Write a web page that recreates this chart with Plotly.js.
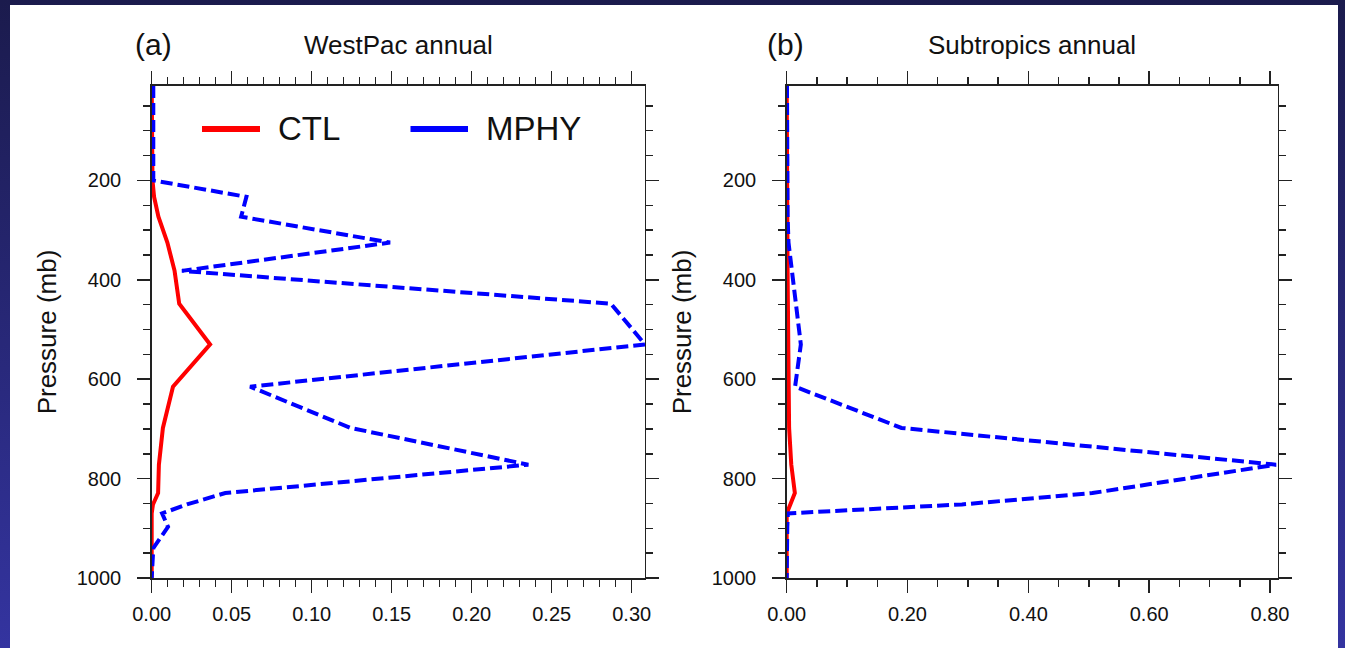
<!DOCTYPE html>
<html>
<head>
<meta charset="utf-8">
<script src="https://cdn.plot.ly/plotly-3.0.1.min.js"></script>
<style>
  html, body { margin: 0; padding: 0; width: 1345px; height: 648px; overflow: hidden;
    background: linear-gradient(to bottom, #1b1b4d 0%, #262672 45%, #3434a0 100%); }
  #chart { position: absolute; left: 10px; top: 5px; width: 1328px; height: 643px; background: #fff; }
</style>
</head>
<body>
<div id="chart"></div>
<script>
// Pressure levels (mb)
const levels = [10, 70, 150, 200, 233, 273, 325, 382, 448, 530, 615, 698, 772, 829, 852, 870, 897, 940, 1000];

// (a) WestPac annual
const westpacCTL  = [0, 0, 0, 0.0005, 0.0015, 0.0042, 0.0098, 0.0143, 0.0172, 0.0365, 0.0133, 0.0070, 0.0045, 0.0040, 0.0008, 0, 0, 0, 0];
const westpacMPHY = [0.001, 0.001, 0.001, 0.001, 0.0592, 0.0559, 0.149, 0.0189, 0.287, 0.3083, 0.0615, 0.1243, 0.2354, 0.046, 0.022, 0.0065, 0.0102, 0.001, 0];

// (b) Subtropics annual
const subtropCTL  = [0, 0, 0, 0.0005, 0.0008, 0.001, 0.0012, 0.0015, 0.002, 0.0025, 0.003, 0.004, 0.0076, 0.0135, 0.006, 0, 0, 0, 0];
const subtropMPHY = [0.0005, 0.0005, 0.0005, 0.001, 0.001, 0.0015, 0.003, 0.009, 0.016, 0.0234, 0.0139, 0.19, 0.81, 0.506, 0.29, 0.002, 0.001, 0.0005, 0];

const seriesNames = ['CTL', 'MPHY'];
const panelTitles = ['WestPac annual', 'Subtropics annual'];
const panelLabels = ['(a)', '(b)'];
const yTitle = 'Pressure (mb)';

const FONT = 'Liberation Sans, Arial, Helvetica, sans-serif';
const RED = '#ff0000', BLUE = '#0000ff';

const traces = [
  {x: westpacCTL,  y: levels, xaxis: 'x',  yaxis: 'y',  mode: 'lines', name: seriesNames[0], showlegend: false,
   line: {color: RED, width: 4}},
  {x: westpacMPHY, y: levels, xaxis: 'x',  yaxis: 'y',  mode: 'lines', name: seriesNames[1], showlegend: false,
   line: {color: BLUE, width: 4, dash: '12px,5px'}},
  {x: subtropCTL,  y: levels, xaxis: 'x2', yaxis: 'y2', mode: 'lines', name: seriesNames[0], showlegend: false,
   line: {color: RED, width: 4}},
  {x: subtropMPHY, y: levels, xaxis: 'x2', yaxis: 'y2', mode: 'lines', name: seriesNames[1], showlegend: false,
   line: {color: BLUE, width: 4, dash: '12px,5px'}}
];

const axisCommon = {
  showline: true, linecolor: '#222', linewidth: 1.5, mirror: 'allticks',
  ticks: 'outside', ticklen: 13, tickwidth: 1.5, tickcolor: '#222',
  showgrid: false, zeroline: false, automargin: false,
  tickfont: {family: FONT, size: 20, color: '#111'}
};

function xAxis(domain, range, dtick, minorDtick, anchor) {
  return Object.assign({}, axisCommon, {
    domain: domain, range: range, anchor: anchor, tick0: 0, dtick: dtick, tickformat: '.2f',
    ticklabelstandoff: 4,
    minor: {ticks: 'outside', ticklen: 7, tickwidth: 1.5, tickcolor: '#222', dtick: minorDtick, tick0: 0, showgrid: false}
  });
}
function yAxis(domain, anchor) {
  return Object.assign({}, axisCommon, {
    domain: domain, range: [1000, 10], anchor: anchor, tick0: 0, dtick: 200,
    ticklabelstandoff: 12,
    minor: {ticks: 'outside', ticklen: 7, tickwidth: 1.5, tickcolor: '#222', dtick: 50, tick0: 0, showgrid: false},
    title: {text: yTitle, font: {family: FONT, size: 26, color: '#111'}, standoff: 12}
  });
}

const yDom = [0.10886, 0.87403];
const xDomA = [0.10670, 0.47816];
const xDomB = [0.58486, 0.95459];

const titleY = 0.9378;
const annotations = [
  {text: panelLabels[0], x: 0.0926, y: titleY, xref: 'paper', yref: 'paper', xanchor: 'left', yanchor: 'middle', showarrow: false,
   font: {family: FONT, size: 30, color: '#111'}},
  {text: panelTitles[0], x: (xDomA[0] + xDomA[1]) / 2, y: titleY, xref: 'paper', yref: 'paper', xanchor: 'center', yanchor: 'middle', showarrow: false,
   font: {family: FONT, size: 26, color: '#111'}},
  {text: panelLabels[1], x: 0.5685, y: titleY, xref: 'paper', yref: 'paper', xanchor: 'left', yanchor: 'middle', showarrow: false,
   font: {family: FONT, size: 30, color: '#111'}},
  {text: panelTitles[1], x: (xDomB[0] + xDomB[1]) / 2, y: titleY, xref: 'paper', yref: 'paper', xanchor: 'center', yanchor: 'middle', showarrow: false,
   font: {family: FONT, size: 26, color: '#111'}},
  // legend labels
  {text: seriesNames[0], x: 0.2003, y: 0.8072, xref: 'paper', yref: 'paper', xanchor: 'left', yanchor: 'middle', showarrow: false,
   font: {family: FONT, size: 33, color: '#111'}},
  {text: seriesNames[1], x: 0.3569, y: 0.8072, xref: 'paper', yref: 'paper', xanchor: 'left', yanchor: 'middle', showarrow: false,
   font: {family: FONT, size: 33, color: '#111'}}
];

const shapes = [
  {type: 'line', xref: 'paper', yref: 'paper', x0: 0.14458, x1: 0.18825, y0: 0.8072, y1: 0.8072, line: {color: RED, width: 6}},
  {type: 'line', xref: 'paper', yref: 'paper', x0: 0.30158, x1: 0.34488, y0: 0.8072, y1: 0.8072, line: {color: BLUE, width: 6}}
];

const layout = {
  width: 1328, height: 643,
  margin: {l: 0, r: 0, t: 0, b: 0, pad: 0},
  paper_bgcolor: '#ffffff', plot_bgcolor: '#ffffff',
  showlegend: false,
  xaxis: xAxis(xDomA, [0, 0.3083], 0.05, 0.01, 'y'),
  yaxis: yAxis(yDom, 'x'),
  xaxis2: xAxis(xDomB, [0, 0.8127], 0.2, 0.05, 'y2'),
  yaxis2: yAxis(yDom, 'x2'),
  annotations: annotations,
  shapes: shapes
};

Plotly.newPlot('chart', traces, layout, {displayModeBar: false, staticPlot: true});
</script>
</body>
</html>
